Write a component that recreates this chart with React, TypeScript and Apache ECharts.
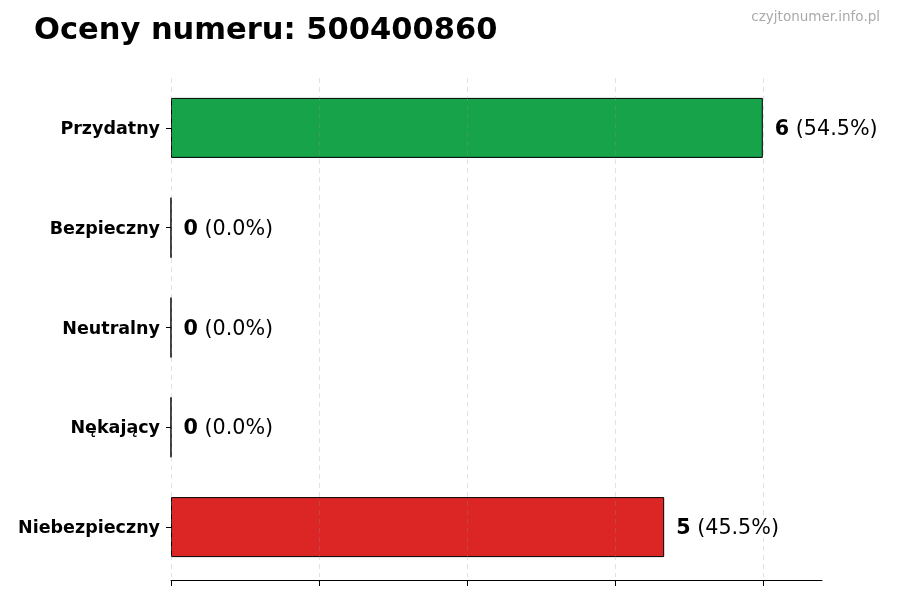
import { useEffect, useRef } from "react"
import * as echarts from "echarts"

const categories = ["Przydatny", "Bezpieczny", "Neutralny", "Nękający", "Niebezpieczny"]
const counts = [6, 0, 0, 0, 5]
const percents = ["54.5%", "0.0%", "0.0%", "0.0%", "45.5%"]
const barColors = ["#16a34a", "#16a34a", "#6b7280", "#f97316", "#dc2626"]
const xTicks = [0, 1.5, 3, 4.5, 6]

const FONT = "DejaVu Sans"

export default function App() {
  const hostRef = useRef<HTMLDivElement>(null)

  useEffect(() => {
    const el = hostRef.current
    if (!el) return
    const chart = echarts.init(el, undefined, { renderer: "svg" })

    chart.setOption({
      animation: false,
      textStyle: { fontFamily: FONT },
      title: [
        {
          text: "Oceny numeru: 500400860",
          left: 34,
          top: 13,
          padding: 0,
          textStyle: { fontFamily: FONT, fontSize: 30.5, fontWeight: "bold", color: "#000" },
        },
        {
          text: "czyjtonumer.info.pl",
          right: 20,
          top: 9,
          padding: 0,
          textStyle: { fontFamily: FONT, fontSize: 13.5, fontWeight: "normal", color: "#aaaaaa" },
        },
      ],
      grid: { left: 171, right: 78, top: 78, bottom: 23, containLabel: false },
      xAxis: {
        type: "value",
        min: 0,
        max: 6.6,
        interval: 1.5,
        offset: 3,
        z: 5,
        axisLine: { show: true, lineStyle: { color: "#000", width: 1 } },
        axisTick: { show: true, length: 6, customValues: xTicks, lineStyle: { color: "#000" } },
        axisLabel: { show: false },
        splitLine: {
          show: true,
          lineStyle: { color: "rgba(150,150,150,0.35)", type: [5, 4], width: 0.8 },
        },
      },
      yAxis: {
        type: "category",
        data: categories,
        inverse: true,
        axisLine: { show: false },
        axisTick: { show: true, alignWithLabel: true, length: 5, lineStyle: { color: "#000" } },
        axisLabel: {
          color: "#000",
          fontFamily: FONT,
          fontSize: 17.5,
          fontWeight: "bold",
          margin: 11,
        },
      },
      series: [
        {
          type: "bar",
          barWidth: 60,
          z: 2,
          data: counts.map((v, i) => ({
            value: v,
            itemStyle: { color: barColors[i], borderColor: "#000", borderWidth: 1 },
          })),
          label: {
            show: true,
            position: "right",
            distance: 12,
            formatter: (p: any) => `{b|${counts[p.dataIndex]}}{n| (${percents[p.dataIndex]})}`,
            rich: {
              b: { fontFamily: FONT, fontSize: 20.7, fontWeight: "bold", color: "#000" },
              n: { fontFamily: FONT, fontSize: 20.7, fontWeight: "normal", color: "#000" },
            },
          },
        },
      ],
    })

    return () => {
      chart.dispose()
    }
  }, [])

  return (
    <div
      ref={hostRef}
      style={{ position: "fixed", left: 0, top: 0, width: 900, height: 600 }}
    />
  )
}
